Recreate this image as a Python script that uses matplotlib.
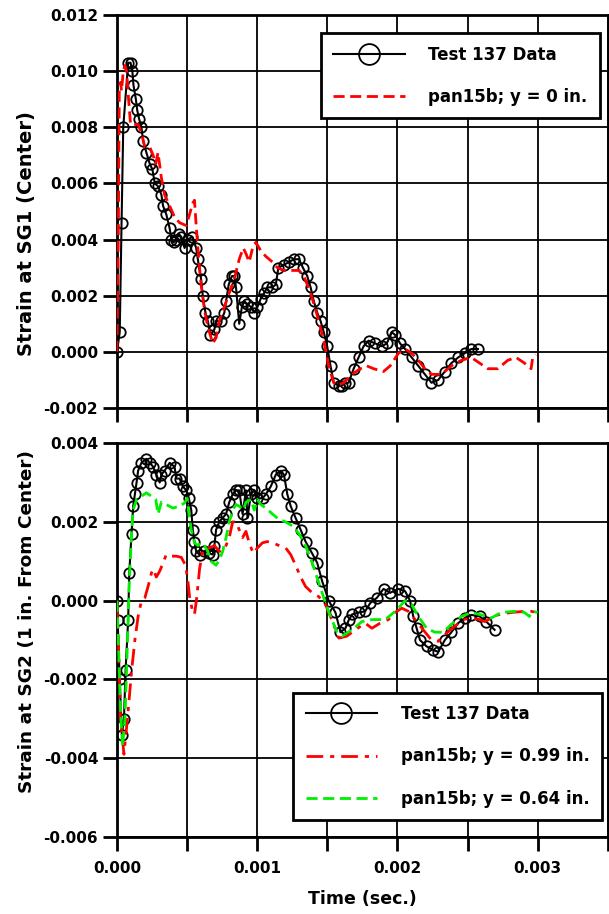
import matplotlib.pyplot as plt
import numpy as np
from matplotlib.ticker import MultipleLocator, FuncFormatter

plt.rcParams['font.family'] = ['DejaVu Sans']
plt.rcParams['font.weight'] = 'bold'

# --- SG1 (top panel) ---
t_test1 = [0, 0.00002, 0.000033, 0.000045, 0.00008, 0.000097, 0.00011, 0.000118, 0.000135, 0.000145,
           0.000158, 0.000175, 0.000187, 0.00021, 0.000234, 0.000253, 0.00027, 0.000293, 0.000317,
           0.000329, 0.000352, 0.000376, 0.000388, 0.000405, 0.000423, 0.000441, 0.000459, 0.000482,
           0.000506, 0.000537, 0.000565, 0.000577, 0.000589, 0.0006, 0.000612, 0.000631, 0.000648,
           0.000667, 0.000695, 0.000707, 0.000742, 0.000766, 0.000778, 0.000797, 0.00082, 0.000837,
           0.000849, 0.000872, 0.000891, 0.000908, 0.000931, 0.000955, 0.000979, 0.001002, 0.001026,
           0.00105, 0.001073, 0.001109, 0.001133, 0.001151, 0.001191, 0.001227, 0.001262, 0.001298,
           0.001326, 0.001357, 0.001381, 0.001404, 0.001428, 0.001452, 0.001475, 0.001499, 0.001523,
           0.001546, 0.001582, 0.001605, 0.001629, 0.001652, 0.001688, 0.001723, 0.001759, 0.001794,
           0.001842, 0.001889, 0.001924, 0.00196, 0.001984, 0.002019, 0.002055, 0.002102, 0.002149,
           0.002196, 0.002243, 0.002291, 0.002338, 0.002385, 0.002433, 0.00248, 0.002527, 0.002574]
y_test1 = [0, 0.0007, 0.0046, 0.0080, 0.0103, 0.0103, 0.0100, 0.0095, 0.0090, 0.0086,
           0.0083, 0.0080, 0.0075, 0.0071, 0.0067, 0.0065, 0.0060, 0.0059, 0.0056,
           0.0052, 0.0049, 0.0044, 0.0040, 0.0039, 0.0040, 0.0042, 0.0041, 0.0037,
           0.0040, 0.0041, 0.0037, 0.0033, 0.0029, 0.0026, 0.0020, 0.0014, 0.0011,
           0.0006, 0.0008, 0.0011, 0.0011, 0.0014, 0.0018, 0.0024, 0.0027, 0.0027,
           0.0023, 0.0010, 0.0016, 0.0018, 0.0017, 0.0016, 0.0014, 0.0016, 0.0019,
           0.0021, 0.0023, 0.0023, 0.0024, 0.0030, 0.0031, 0.0032, 0.0033, 0.0033,
           0.0030, 0.0027, 0.0023, 0.0018, 0.0014, 0.0011, 0.0007, 0.0002, -0.0005,
           -0.0011, -0.0012, -0.0012, -0.0011, -0.0011, -0.0006, -0.0002, 0.0002, 0.0004,
           0.0003, 0.0002, 0.0003, 0.0007, 0.0006, 0.0003, 0.0001, -0.0002, -0.0005,
           -0.0008, -0.0011, -0.0010, -0.0007, -0.0004, -0.0002, -0.00005, 0.0001, 0.0001]

t_pan0 = [0, 0.00001, 0.000017, 0.000026, 0.000033, 0.000045, 0.000057, 0.000069, 0.00008, 0.000097,
          0.000116, 0.000151, 0.000175, 0.000199, 0.000234, 0.000258, 0.000277, 0.000293, 0.000317,
          0.00034, 0.000376, 0.000411, 0.000447, 0.000494, 0.000518, 0.000541, 0.000553, 0.000565,
          0.000577, 0.0006, 0.000624, 0.000648, 0.000683, 0.000707, 0.00073, 0.000766, 0.000801,
          0.000837, 0.000872, 0.000901, 0.00092, 0.000943, 0.000972, 0.000991, 0.001026, 0.001062,
          0.001109, 0.001144, 0.001191, 0.001239, 0.001298, 0.001333, 0.001381, 0.001428, 0.001475,
          0.00151, 0.001546, 0.00157, 0.001617, 0.001676, 0.001735, 0.001782, 0.00183, 0.001901,
          0.001948, 0.002007, 0.002055, 0.002102, 0.002149, 0.002196, 0.002243, 0.002314, 0.002385,
          0.002456, 0.002527, 0.002586, 0.002645, 0.002716, 0.002787, 0.002846, 0.002906, 0.002953,
          0.002965, 0.002988]
y_pan0 = [0, 0.0042, 0.0094, 0.0096, 0.0093, 0.0100, 0.0102, 0.0100, 0.0092, 0.0081,
          0.0081, 0.0081, 0.0078, 0.0073, 0.0073, 0.0070, 0.0067, 0.0071, 0.0062,
          0.0056, 0.0052, 0.0048, 0.0046, 0.0045, 0.0049, 0.0053, 0.0054, 0.0045,
          0.0037, 0.0024, 0.0015, 0.0009, 0.0003, 0.0005, 0.0011, 0.0016, 0.0021,
          0.0026, 0.0033, 0.0037, 0.0035, 0.0032, 0.0038, 0.0039, 0.0036, 0.0034,
          0.0032, 0.0030, 0.0029, 0.0029, 0.0029, 0.0027, 0.0021, 0.0013, 0.0004,
          -0.0005, -0.0011, -0.0012, -0.0011, -0.0008, -0.0006, -0.0005, -0.0006, -0.0007,
          -0.0005, -0.00005, 0.0001, -0.00005, -0.0003, -0.0006, -0.0008, -0.0008, -0.0005,
          -0.0003, -0.0002, -0.0004, -0.0006, -0.0006, -0.0003, -0.0002, -0.0004, -0.0006,
          -0.0002, -0.0001]

# --- SG2 (bottom panel) ---
t_test2 = [0, 0.000005, 0.00002, 0.000035, 0.00005, 0.000062, 0.00008, 0.000088, 0.000104, 0.000116,
           0.000128, 0.00014, 0.000151, 0.000175, 0.00021, 0.000234, 0.000258, 0.000281, 0.000305,
           0.000317, 0.00034, 0.000376, 0.000411, 0.000423, 0.000447, 0.00047, 0.000494, 0.000513,
           0.00053, 0.000541, 0.000553, 0.000565, 0.000589, 0.000624, 0.00066, 0.000683, 0.000695,
           0.000707, 0.00073, 0.000754, 0.000778, 0.000801, 0.000825, 0.000849, 0.000872, 0.000896,
           0.00092, 0.000931, 0.000955, 0.000979, 0.001002, 0.001038, 0.001062, 0.001097, 0.001133,
           0.001168, 0.001191, 0.001215, 0.001239, 0.001274, 0.00131, 0.001345, 0.001392, 0.001428,
           0.001463, 0.00151, 0.001558, 0.001594, 0.001629, 0.001652, 0.001676, 0.001723, 0.00177,
           0.001806, 0.001853, 0.001901, 0.001948, 0.002007, 0.002055, 0.00209, 0.002113, 0.002137,
           0.002161, 0.002208, 0.002255, 0.002291, 0.002338, 0.002385, 0.002433, 0.00248, 0.002527,
           0.002586, 0.002633, 0.002693]
y_test2 = [0, -0.0005, -0.0020, -0.0034, -0.0030, -0.00175, -0.0005, 0.0007, 0.0017, 0.0024,
           0.0027, 0.0030, 0.0033, 0.0035, 0.0036, 0.0035, 0.0034, 0.0032, 0.0030,
           0.0032, 0.0033, 0.0035, 0.0034, 0.0031, 0.0031, 0.0029, 0.0028, 0.0026,
           0.0023, 0.0018, 0.0015, 0.00125, 0.00117, 0.00125, 0.0012, 0.00117, 0.0014,
           0.0018, 0.0020, 0.0021, 0.0022, 0.0025, 0.0027, 0.0028, 0.0028, 0.0022,
           0.0028, 0.0021, 0.0027, 0.0028, 0.0026, 0.0026, 0.0027, 0.0029, 0.0032,
           0.0033, 0.0032, 0.0027, 0.0024, 0.0021, 0.0018, 0.0015, 0.0012, 0.00096,
           0.0005, 0.0, -0.0003, -0.0008, -0.0007, -0.0005, -0.00035, -0.0003, -0.00027,
           -0.00006, 0.00007, 0.0003, 0.0002, 0.0003, 0.00024, 0.0, -0.0004, -0.0007,
           -0.0010, -0.00116, -0.00125, -0.0013, -0.0010, -0.0008, -0.00057, -0.00044, -0.00036,
           -0.0004, -0.00053, -0.00074]

t_pan99 = [0, 0.00001, 0.000026, 0.00005, 0.000064, 0.00008, 0.000104, 0.000128, 0.000151, 0.000175,
           0.000199, 0.000222, 0.000246, 0.000258, 0.000281, 0.000305, 0.000329, 0.000352, 0.000388,
           0.000423, 0.000459, 0.000489, 0.000506, 0.000518, 0.000537, 0.000553, 0.00057, 0.000589,
           0.000608, 0.000631, 0.00066, 0.000695, 0.00073, 0.000766, 0.000801, 0.000825, 0.000849,
           0.000872, 0.000896, 0.00092, 0.000943, 0.000972, 0.001002, 0.001038, 0.001073, 0.001109,
           0.001156, 0.001203, 0.001239, 0.001274, 0.00131, 0.001345, 0.001392, 0.00144, 0.001487,
           0.001534, 0.001582, 0.00164, 0.0017, 0.00177, 0.001818, 0.001877, 0.001936, 0.001984,
           0.002031, 0.002078, 0.002126, 0.002184, 0.002243, 0.002291, 0.002338, 0.002409, 0.002468,
           0.002527, 0.002586, 0.002622, 0.002716, 0.00281, 0.002906, 0.002953, 0.003]
y_pan99 = [0, -0.0010, -0.0030, -0.0039, -0.0034, -0.0028, -0.0018, -0.0010, -0.0004, 0.0,
           0.00007, 0.00036, 0.0007, 0.0008, 0.0006, 0.00075, 0.00096, 0.00117, 0.00113,
           0.00113, 0.0011, 0.0009, 0.0005, 0.0001, -0.00023, -0.00035, 0.0001, 0.0008,
           0.0012, 0.00134, 0.00134, 0.0014, 0.00125, 0.0013, 0.0016, 0.0020, 0.0020,
           0.0018, 0.0016, 0.00176, 0.00147, 0.0012, 0.00134, 0.00147, 0.0015, 0.00147,
           0.0014, 0.00134, 0.00117, 0.0009, 0.0006, 0.00036, 0.0002, 0.0001, -0.0001,
           -0.0005, -0.00095, -0.0009, -0.00074, -0.00057, -0.0007, -0.00057, -0.00048, -0.0003,
           -0.00019, -0.00027, -0.00048, -0.00074, -0.0010, -0.00103, -0.00086, -0.00065, -0.00048,
           -0.00044, -0.00048, -0.00053, -0.00036, -0.0003, -0.00027, -0.00027, -0.0003]

t_pan64 = [0, 0.00001, 0.000026, 0.00004, 0.000057, 0.000069, 0.000087, 0.000104, 0.000116, 0.00014,
           0.000175, 0.00021, 0.000246, 0.000277, 0.000293, 0.000317, 0.000352, 0.000399, 0.000447,
           0.000482, 0.000501, 0.000513, 0.00053, 0.000553, 0.000577, 0.0006, 0.000624, 0.000648,
           0.000671, 0.000707, 0.00073, 0.000754, 0.000778, 0.000801, 0.000825, 0.000849, 0.000872,
           0.000901, 0.00092, 0.000955, 0.000979, 0.001002, 0.001026, 0.001062, 0.001109, 0.001156,
           0.001203, 0.00125, 0.001298, 0.001345, 0.001392, 0.00144, 0.001487, 0.001534, 0.00157,
           0.001605, 0.001676, 0.001747, 0.001818, 0.001913, 0.001984, 0.002055, 0.002102, 0.002149,
           0.002208, 0.002267, 0.002326, 0.002385, 0.002456, 0.002527, 0.002598, 0.002669, 0.00274,
           0.002835, 0.002906, 0.002941, 0.002965, 0.003]
y_pan64 = [0, -0.0010, -0.0028, -0.0037, -0.0030, -0.00175, 0.00036, 0.0017, 0.0023, 0.00257,
           0.00265, 0.00274, 0.00265, 0.00257, 0.0022, 0.0025, 0.00244, 0.00235, 0.0024,
           0.00248, 0.0026, 0.0022, 0.0018, 0.00147, 0.0014, 0.00147, 0.0014, 0.00125,
           0.0010, 0.0009, 0.00104, 0.00125, 0.0016, 0.0020, 0.0023, 0.00244, 0.0024,
           0.0023, 0.0025, 0.00257, 0.0023, 0.00257, 0.00244, 0.00235, 0.0022, 0.00206,
           0.0020, 0.0019, 0.0017, 0.0014, 0.00096, 0.00045, -0.00006, -0.0005, -0.0008,
           -0.0009, -0.00074, -0.00053, -0.00048, -0.00048, -0.00027, 0.0, -0.0001, -0.0004,
           -0.0007, -0.0008, -0.0008, -0.0006, -0.0004, -0.0003, -0.00036, -0.00044, -0.0003,
           -0.00027, -0.0003, -0.0004, -0.00027, -0.0003]

fig = plt.figure(figsize=(6.09, 9.14), dpi=100)
ax1 = fig.add_axes([0.192, 0.5536, 0.806, 0.430])
ax2 = fig.add_axes([0.192, 0.0842, 0.806, 0.431])

test_style = dict(color='black', lw=1.5, marker='o', ms=7.5, mfc='none', mec='black', mew=1.3)

ax1.plot(t_test1, y_test1, label='Test 137 Data', zorder=3, **test_style)
ax1.plot(t_pan0, y_pan0, color='red', lw=2, ls=(0, (4, 2)), label='pan15b; y = 0 in.', zorder=4)

ax2.plot(t_test2, y_test2, label='Test 137 Data', zorder=3, **test_style)
ax2.plot(t_pan99, y_pan99, color='red', lw=2, ls=(0, (6, 2.5, 1.5, 2.5)), label='pan15b; y = 0.99 in.', zorder=4)
ax2.plot(t_pan64, y_pan64, color='#00ee00', lw=2, ls=(0, (4, 2)), label='pan15b; y = 0.64 in.', zorder=4)

def xfmt(v, pos):
    k = int(round(v / 0.0005))
    return f'{v:.3f}' if k % 2 == 0 else ''

for ax in (ax1, ax2):
    ax.set_xlim(0, 0.0035)
    ax.xaxis.set_major_locator(MultipleLocator(0.0005))
    ax.yaxis.set_major_locator(MultipleLocator(0.002))
    ax.grid(True, color='black', lw=1.3)
    ax.set_axisbelow(True)
    for s in ax.spines.values():
        s.set_linewidth(2)
    ax.tick_params(direction='out', length=10, width=2, labelsize=11, top=False, right=False)

ax1.set_ylim(-0.002, 0.012)
ax1.xaxis.set_major_formatter(FuncFormatter(lambda v, p: ''))
ax1.yaxis.set_major_formatter(FuncFormatter(lambda v, p: f'{v:.3f}'))
ax2.set_ylim(-0.006, 0.004)
ax2.xaxis.set_major_formatter(FuncFormatter(xfmt))
ax2.yaxis.set_major_formatter(FuncFormatter(lambda v, p: f'{v:.3f}'))

ax1.set_ylabel('Strain at SG1 (Center)', fontsize=14, fontweight='bold')
ax1.yaxis.set_label_coords(-0.165, 0.445)
ax2.set_ylabel('Strain at SG2 (1 in. From Center)', fontsize=13.3, fontweight='bold')
ax2.yaxis.set_label_coords(-0.165, 0.548)
ax2.set_xlabel('Time (sec.)', fontsize=12.5, fontweight='bold')
ax2.xaxis.set_label_coords(0.5, -0.135)
ax2.tick_params(axis='x', pad=7)

leg_kw = dict(fontsize=12, frameon=True, fancybox=False, framealpha=1, markerscale=2.0,
              handlelength=4.3, handletextpad=1.4, labelspacing=1.45, borderpad=0.75, borderaxespad=0)
l1 = ax1.legend(loc='upper right', bbox_to_anchor=(0.984, 0.954), **leg_kw)
l2 = ax2.legend(loc='lower right', bbox_to_anchor=(0.988, 0.043), **leg_kw)
for lg in (l1, l2):
    lg.get_frame().set_edgecolor('black')
    lg.get_frame().set_linewidth(2)
    lg.set_zorder(10)

fig.savefig('out.png', dpi=100)
